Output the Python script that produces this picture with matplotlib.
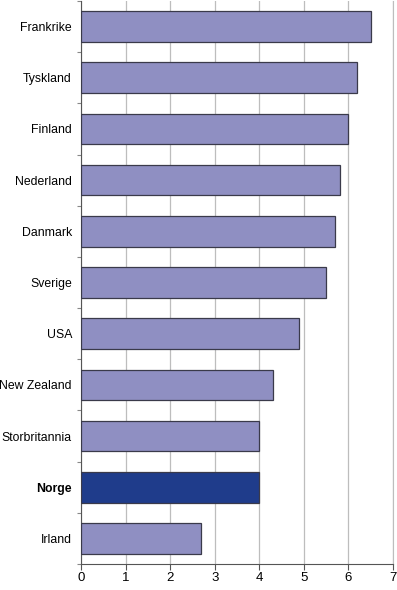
import matplotlib.pyplot as plt
import numpy as np

# ── Data ──────────────────────────────────────────────────────────────────────
countries = ['Frankrike', 'Tyskland', 'Finland', 'Nederland', 'Danmark',
             'Sverige', 'USA', 'New Zealand', 'Storbritannia', 'Norge', 'Irland']
values    = [6.5, 6.2, 6.0, 5.8, 5.7, 5.5, 4.9, 4.3, 4.0, 4.0, 2.7]
highlight = 'Norge'

BAR_COL  = '#8f8fc2'
HI_COL   = '#1f3c8b'
GRID_COL = '#bdbdbd'

plt.rcParams['font.family'] = ['Liberation Sans', 'DejaVu Sans']

fig = plt.figure(figsize=(3.97, 5.90), dpi=100)
ax = fig.add_axes([81 / 397, 26 / 590, 312 / 397, 563 / 590])

pos = np.arange(len(countries))
colors = [HI_COL if c == highlight else BAR_COL for c in countries]
ax.barh(pos, values, height=0.6, color=colors,
        edgecolor='#3a3a4a', linewidth=0.9, zorder=3)

ax.set_xlim(0, 7)
ax.set_ylim(len(countries) - 0.5, -0.5)
ax.set_xticks(range(8))
ax.tick_params(axis='x', labelsize=9.5, length=4, color='#555555', pad=2)

# category boundaries as ticks, names at centres
ax.set_yticks(np.arange(len(countries) + 1) - 0.5)
ax.set_yticklabels([])
ax.tick_params(axis='y', which='major', length=3, color='#888888')
ax.set_yticks(pos, minor=True)
ax.set_yticklabels(countries, minor=True)
ax.tick_params(axis='y', which='minor', length=0, pad=6.5, labelsize=8.8)
for lbl in ax.get_yticklabels(minor=True):
    if lbl.get_text() == highlight:
        lbl.set_fontweight('bold')

ax.grid(axis='x', color=GRID_COL, linewidth=0.9, zorder=0)
ax.set_axisbelow(True)
ax.spines['top'].set_visible(False)
ax.spines['right'].set_color(GRID_COL)
ax.spines['left'].set_color('#555555')
ax.spines['bottom'].set_color('#555555')

fig.savefig('out.png', dpi=100)
